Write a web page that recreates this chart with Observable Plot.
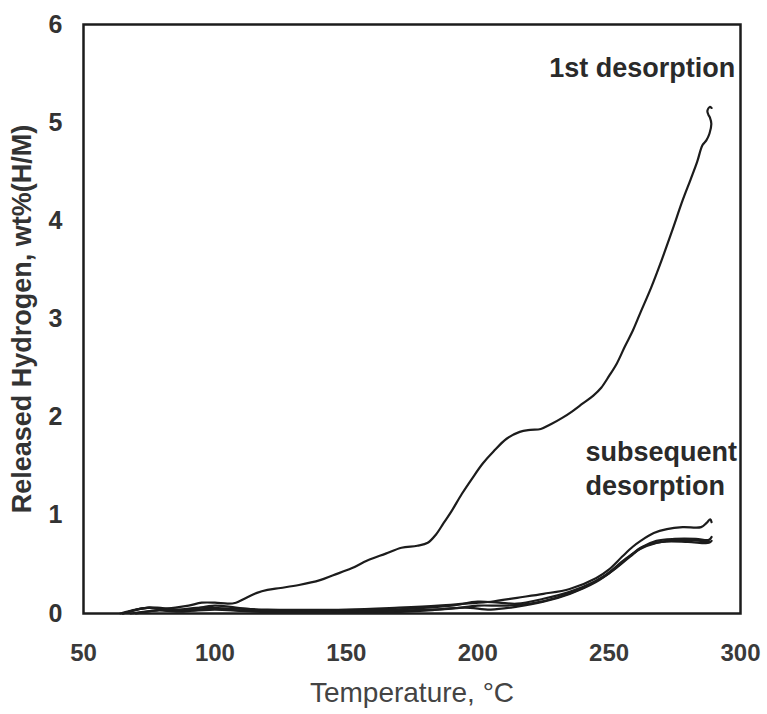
<!DOCTYPE html>
<html>
<head>
<meta charset="utf-8">
<script src="https://cdn.jsdelivr.net/npm/d3@7"></script>
<script src="https://cdn.jsdelivr.net/npm/@observablehq/plot@0.6"></script>
<style>
  html, body { margin: 0; padding: 0; background: #fff; }
  #chart svg { display: block; }
</style>
</head>
<body>
<div id="chart"></div>
<script>
// Temperature (°C) and released hydrogen (wt% H/M)
const firstT = [64, 70, 75, 80, 85, 90, 95, 100, 105, 108, 112, 116, 120, 125, 132, 140, 145, 152, 158, 165, 171, 177, 181, 184, 187, 190, 194, 198, 202, 206, 211, 216, 220, 224, 228, 232, 236, 240, 244, 247, 250, 253, 256, 259, 262, 266, 270, 274, 278, 281, 283.5, 285.5, 287, 288.2, 288.9, 288.4, 287.8, 287.4, 288.3, 289];
const firstV = [0, 0.04, 0.06, 0.05, 0.06, 0.08, 0.11, 0.11, 0.10, 0.11, 0.16, 0.21, 0.24, 0.26, 0.29, 0.34, 0.39, 0.46, 0.54, 0.61, 0.67, 0.69, 0.72, 0.80, 0.92, 1.04, 1.22, 1.38, 1.53, 1.65, 1.78, 1.85, 1.87, 1.88, 1.93, 1.99, 2.06, 2.14, 2.22, 2.30, 2.42, 2.55, 2.72, 2.88, 3.07, 3.32, 3.60, 3.90, 4.21, 4.42, 4.60, 4.77, 4.82, 4.89, 4.99, 5.05, 5.08, 5.12, 5.16, 5.15];

const sub1T = [65, 72, 78, 85, 95, 105, 120, 150, 170, 185, 195, 205, 215, 225, 235, 245, 250, 255, 259, 262, 267, 272, 278, 285, 287, 288.5, 289];
const sub1V = [0, 0.05, 0.06, 0.04, 0.06, 0.05, 0.04, 0.04, 0.06, 0.08, 0.10, 0.12, 0.16, 0.20, 0.25, 0.36, 0.45, 0.58, 0.68, 0.74, 0.82, 0.86, 0.88, 0.88, 0.92, 0.96, 0.93];
const sub2T = [65, 75, 82, 90, 100, 108, 120, 150, 175, 190, 200, 208, 215, 225, 235, 245, 250, 255, 259, 262, 268, 275, 283, 288, 289];
const sub2V = [0, 0.06, 0.03, 0.04, 0.08, 0.06, 0.03, 0.03, 0.05, 0.08, 0.12, 0.11, 0.10, 0.15, 0.22, 0.33, 0.41, 0.52, 0.61, 0.67, 0.74, 0.76, 0.76, 0.75, 0.78];
const sub3T = [68, 78, 88, 98, 110, 140, 160, 180, 195, 205, 215, 225, 235, 245, 252, 258, 263, 270, 280, 288, 289];
const sub3V = [0, 0.03, 0.02, 0.05, 0.03, 0.02, 0.01, 0.03, 0.06, 0.04, 0.07, 0.12, 0.20, 0.32, 0.45, 0.58, 0.68, 0.73, 0.73, 0.72, 0.74];
const sub4T = [70, 80, 92, 100, 115, 150, 170, 190, 200, 210, 220, 230, 240, 248, 256, 262, 268, 276, 285, 288];
const sub4V = [0, 0.04, 0.03, 0.04, 0.02, 0.02, 0.03, 0.05, 0.08, 0.08, 0.10, 0.16, 0.26, 0.38, 0.55, 0.66, 0.72, 0.75, 0.74, 0.73];

const xTicks = [50, 100, 150, 200, 250, 300];
const yTicks = [0, 1, 2, 3, 4, 5, 6];

const labelTexts = ["1st desorption", "subsequent", "desorption"];
const labelT = [298, 241, 241];
const labelV = [5.55, 1.64, 1.30];
const labelAnchors = ["end", "start", "start"];

const toRows = (name, ts, vs) => ts.map((t, i) => ({series: name, t, v: vs[i]}));
const rows = [
  ...toRows("first", firstT, firstV),
  ...toRows("sub1", sub1T, sub1V),
  ...toRows("sub2", sub2T, sub2V),
  ...toRows("sub3", sub3T, sub3V),
  ...toRows("sub4", sub4T, sub4V)
];
const labels = labelTexts.map((text, i) => ({text, t: labelT[i], v: labelV[i], anchor: labelAnchors[i]}));

const chart = Plot.plot({
  width: 767,
  height: 714,
  marginLeft: 83,
  marginRight: 27,
  marginTop: 24,
  marginBottom: 101,
  style: {fontFamily: "'Liberation Sans', Arial, sans-serif", background: "#fff", color: "#333"},
  x: {domain: [50, 300]},
  y: {domain: [0, 6]},
  marks: [
    Plot.axisX({ticks: xTicks, tickFormat: "d", tickSize: 0, tickPadding: 30, fontSize: 24, fontWeight: "bold", label: "Temperature, °C", labelAnchor: "center", labelArrow: "none", labelOffset: 88, fill: "#3a3a3a"}),
    Plot.axisY({ticks: yTicks, tickFormat: "d", tickSize: 0, tickPadding: 21, fontSize: 25, fontWeight: "bold", label: "Released Hydrogen, wt%(H/M)", labelAnchor: "center", labelArrow: "none", labelOffset: 72, fill: "#333"}),
    Plot.line(rows, {x: "t", y: "v", z: "series", stroke: "#1c1c1c", strokeWidth: 2.2, curve: "catmull-rom"}),
    Plot.text(labels.filter(d => d.anchor === "end"), {x: "t", y: "v", text: "text", textAnchor: "end", fontSize: 27, fontWeight: "bold", fill: "#2a2a2a"}),
    Plot.text(labels.filter(d => d.anchor === "start"), {x: "t", y: "v", text: "text", textAnchor: "start", fontSize: 27, fontWeight: "bold", fill: "#2a2a2a"}),
    Plot.frame({stroke: "#1c1c1c", strokeWidth: 2.5})
  ]
});
document.getElementById("chart").appendChild(chart);
// axis label font sizes
d3.select(chart).selectAll("g[aria-label='x-axis label'] text").attr("font-size", 28).attr("font-weight", "normal").attr("fill", "#444");
d3.select(chart).selectAll("g[aria-label='y-axis label'] text").attr("font-size", 27).attr("font-weight", "bold");
</script>
</body>
</html>
